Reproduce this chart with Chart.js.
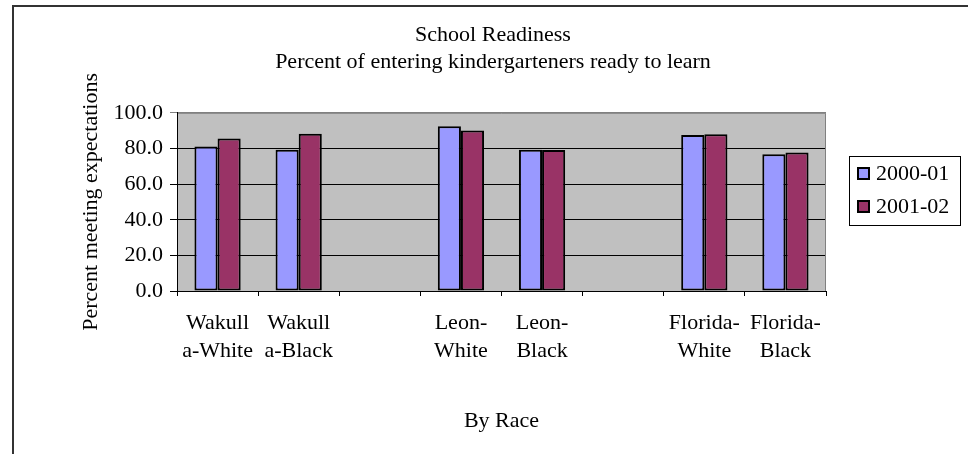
<!DOCTYPE html>
<html>
<head>
<meta charset="utf-8">
<script src="https://cdn.jsdelivr.net/npm/chart.js@4.4.1/dist/chart.umd.min.js"></script>
<style>
  html, body { margin: 0; padding: 0; background: #fff; }
</style>
</head>
<body>
<canvas id="readiness" width="968" height="454"></canvas>
<script>
// categories (blank slots are the gaps between counties)
const categories = ['Wakulla-White', 'Wakulla-Black', '', 'Leon-White', 'Leon-Black', '', 'Florida-White', 'Florida-Black'];
// tick labels, wrapped the way the original chart wraps them
const tickLabels = [['Wakull', 'a-White'], ['Wakull', 'a-Black'], '', ['Leon-', 'White'], ['Leon-', 'Black'], '', ['Florida-', 'White'], ['Florida-', 'Black']];
const seriesNames = ['2000-01', '2001-02'];
const values2000 = [81.1, 79.2, null, 92.5, 79.2, null, 87.5, 76.8];
const values2001 = [85.6, 88.2, null, 90.1, 79.1, null, 88.0, 77.7];
const yTicks = [0, 20, 40, 60, 80, 100];

const FONT = 'Liberation Serif, Times New Roman, serif';

// gray plot area, chart frame, legend box
const decor = {
  id: 'decor',
  beforeDraw(chart) {
    const { ctx, chartArea: a } = chart;
    ctx.save();
    ctx.fillStyle = '#fff';
    ctx.fillRect(0, 0, chart.width, chart.height);
    ctx.strokeStyle = '#333';
    ctx.lineWidth = 2;
    ctx.strokeRect(13, 6, 1200, 1200);
    ctx.fillStyle = '#c0c0c0';
    ctx.fillRect(a.left, a.top, a.right - a.left, a.bottom - a.top);
    ctx.restore();
  },
  afterDraw(chart) {
    const { ctx, chartArea: a } = chart;
    ctx.save();
    ctx.strokeStyle = '#808080';
    ctx.lineWidth = 1;
    ctx.beginPath();
    ctx.moveTo(a.left + 1, a.top + 0.5);
    ctx.lineTo(a.right - 0.5, a.top + 0.5);
    ctx.lineTo(a.right - 0.5, a.bottom);
    ctx.stroke();

    // legend
    ctx.fillStyle = '#fff';
    ctx.fillRect(849, 156, 111, 69);
    ctx.strokeStyle = '#000';
    ctx.strokeRect(849.5, 156.5, 111, 69);
    ctx.font = '22px ' + FONT;
    ctx.textBaseline = 'middle';
    ctx.textAlign = 'left';
    chart.data.datasets.forEach((ds, i) => {
      const y = 167 + i * 33;
      ctx.fillStyle = ds.backgroundColor;
      ctx.fillRect(857, y, 13, 13);
      ctx.lineWidth = 2;
      ctx.strokeStyle = '#000';
      ctx.strokeRect(858, y + 1, 11, 11);
      ctx.fillStyle = '#000';
      ctx.fillText(ds.label, 876, y + 7);
    });
    ctx.restore();
  }
};

new Chart(document.getElementById('readiness'), {
  type: 'bar',
  data: {
    labels: tickLabels,
    datasets: [
      { label: seriesNames[0], data: values2000, backgroundColor: '#9999ff' },
      { label: seriesNames[1], data: values2001, backgroundColor: '#993366' }
    ]
  },
  options: {
    responsive: false,
    animation: false,
    devicePixelRatio: 1,
    layout: { padding: { left: 18, right: 0, top: 0, bottom: 0 } },
    datasets: {
      bar: {
        borderColor: '#000',
        borderWidth: 2,
        borderSkipped: false,
        categoryPercentage: 0.57,
        barPercentage: 1
      }
    },
    plugins: {
      legend: { display: false },
      tooltip: { enabled: false },
      title: {
        display: true,
        text: 'School Readiness',
        color: '#000',
        font: { family: FONT, size: 22, weight: 'normal', lineHeight: 1.2 },
        padding: { top: 22, bottom: 0 }
      },
      subtitle: {
        display: true,
        text: 'Percent of entering kindergarteners ready to learn',
        color: '#000',
        font: { family: FONT, size: 22, weight: 'normal', lineHeight: 1.2 },
        padding: { top: 1, bottom: 37 }
      }
    },
    scales: {
      x: {
        grid: { drawOnChartArea: false, color: '#000', tickLength: 5, offset: true },
        border: { color: '#000', width: 1 },
        ticks: {
          color: '#000',
          padding: 13,
          maxRotation: 0,
          autoSkip: false,
          font: { family: FONT, size: 22, lineHeight: 1.29 }
        },
        title: {
          display: true,
          text: 'By Race',
          color: '#000',
          font: { family: FONT, size: 22, lineHeight: 1.2 },
          padding: { top: 0, bottom: 20 }
        },
        afterFit(s) { s.height = 163; }
      },
      y: {
        min: 0,
        max: 100,
        afterBuildTicks(s) { s.ticks = yTicks.map(v => ({ value: v })); },
        grid: {
          color: ctx => (ctx.tick && ctx.tick.value === 100 ? '#808080' : '#000'),
          tickLength: 7,
          lineWidth: 1
        },
        border: { color: '#000', width: 1 },
        ticks: {
          color: '#000',
          padding: 7,
          font: { family: FONT, size: 22 },
          callback: v => Number(v).toFixed(1)
        },
        title: {
          display: true,
          text: 'Percent meeting expectations',
          color: '#000',
          font: { family: FONT, size: 22, lineHeight: 1.2 },
          padding: { top: 60, bottom: 0 }
        },
        afterFit(s) { s.width = 159; }
      },
      // empty right-hand axis that reserves the legend's room
      yRight: {
        position: 'right',
        min: 0,
        max: 100,
        grid: { display: false },
        border: { display: false },
        ticks: { display: false },
        afterFit(s) { s.width = 142; }
      }
    }
  },
  plugins: [decor]
});
</script>
</body>
</html>
